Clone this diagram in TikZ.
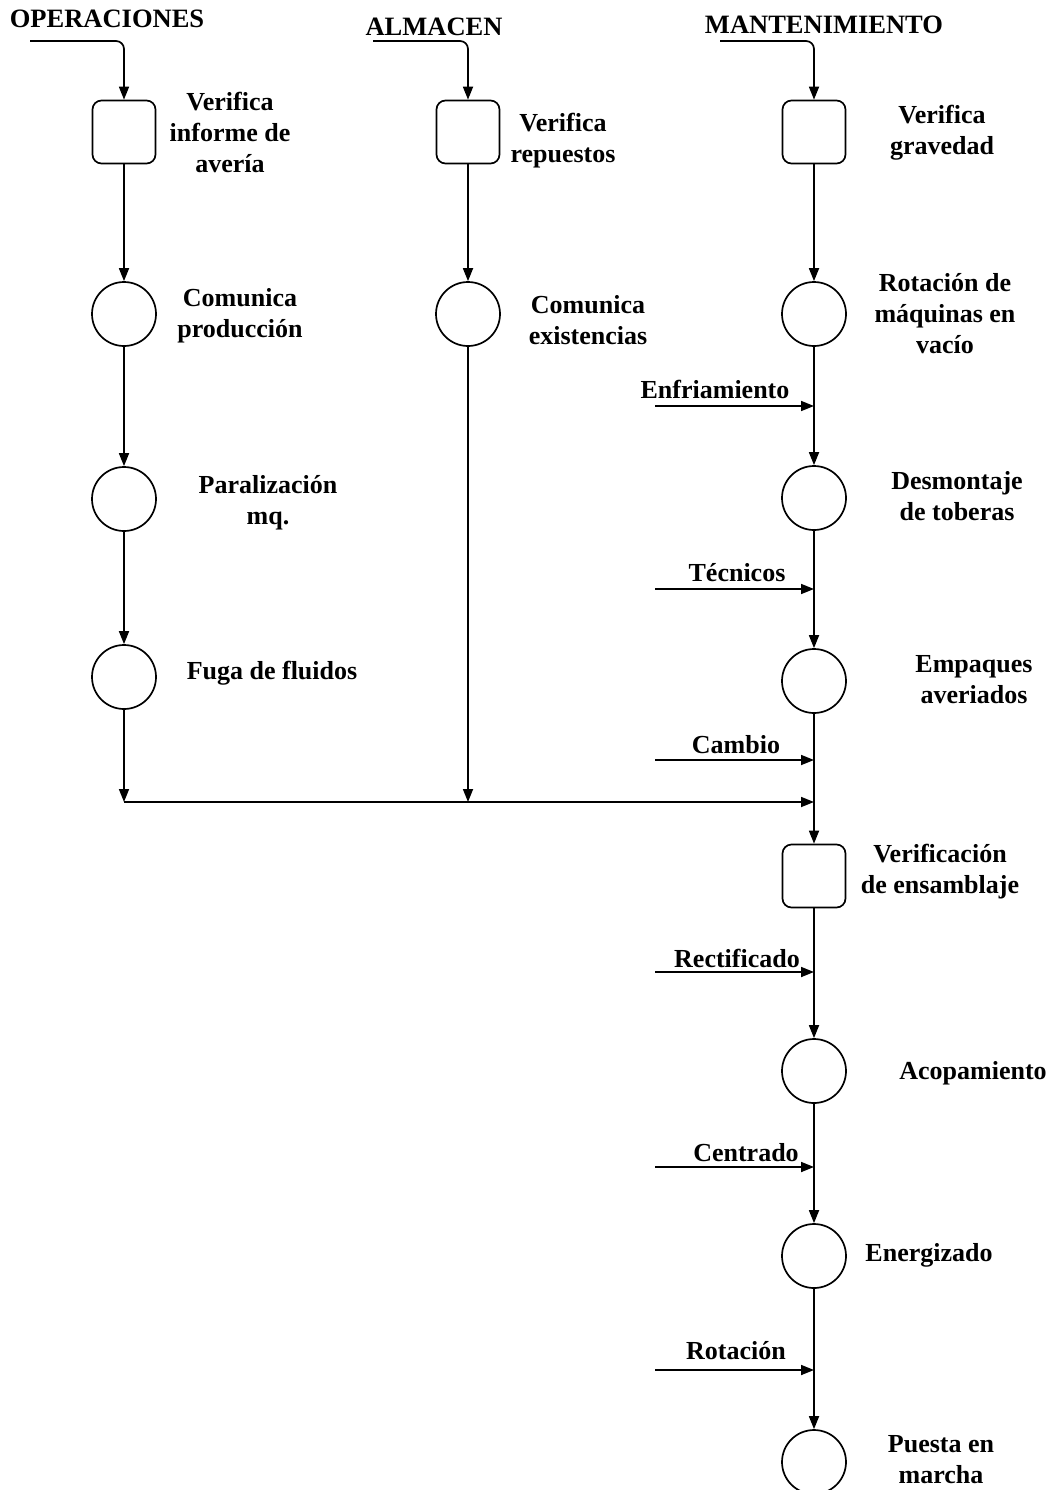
\documentclass[tikz,border=0pt]{standalone}
\usepackage{fontspec}
\setmainfont{Liberation Serif}
\usetikzlibrary{arrows.meta}
\begin{document}
\begin{tikzpicture}[x=1pt,y=-1pt,
  line width=1.7pt,
  arr/.style={-{Triangle[length=13pt,width=10pt]}},
  opbox/.style={draw,rounded corners=9pt,minimum width=63pt,minimum height=63pt,inner sep=0pt},
  opcirc/.style={draw,circle,minimum size=64pt,inner sep=0pt},
  lbl/.style={font=\bfseries\fontsize{26}{31}\selectfont,align=center,inner sep=0pt},
  hdr/.style={lbl,font=\bfseries\fontsize{26.5}{31}\selectfont},
]
\fill[white] (0,0) rectangle (1055,1490);
\useasboundingbox (0,0) rectangle (1055,1490);

% headers
\node[hdr] (hO) at (107,19) {OPERACIONES};
\node[hdr] (hA) at (434,27) {ALMACEN};
\node[hdr] (hM) at (824,25) {MANTENIMIENTO};
\coordinate (sO) at (30,41);
\coordinate (sA) at (373,41);
\coordinate (sM) at (720,41);

% left column
\node[opbox]  (b1) at (124,132) {};
\node[opcirc] (c1) at (124,314) {};
\node[opcirc] (c2) at (124,499) {};
\node[opcirc] (c3) at (124,677) {};
\coordinate (j1) at (124,802);

% middle column
\node[opbox]  (b2) at (468,132) {};
\node[opcirc] (c4) at (468,314) {};
\coordinate (j2) at (468,802);

% right column
\node[opbox]  (b3) at (814,132) {};
\node[opcirc] (c5) at (814,314) {};
\node[opcirc] (c6) at (814,498) {};
\node[opcirc] (c7) at (814,681) {};
\node[opbox]  (b4) at (814,876) {};
\node[opcirc] (c8) at (814,1071) {};
\node[opcirc] (c9) at (814,1256) {};
\node[opcirc] (c10) at (814,1462) {};
\coordinate (j3) at (814,802);

% labels
\node[lbl] (l1) at (230,132) {Verifica\\informe de\\avería};
\node[lbl] (l2) at (240,316) {Comunica\\producción};
\node[lbl] (l3) at (268,503) {Paralización\\mq.};
\node[lbl] (l4) at (272,673) {Fuga de fluidos};
\node[lbl] (l5) at (563,141) {Verifica\\repuestos};
\node[lbl] (l6) at (588,320) {Comunica\\existencias};
\node[lbl] (l7) at (942,133) {Verifica\\gravedad};
\node[lbl] (l8) at (945,314) {Rotación de\\máquinas en\\vacío};
\node[lbl] (l9) at (957,496) {Desmontaje\\de toberas};
\node[lbl] (l10) at (974,680) {Empaques\\averiados};
\node[lbl] (l11) at (940,872) {Verificación\\de ensamblaje};
\node[lbl] (l12) at (973,1073) {Acopamiento};
\node[lbl] (l13) at (929,1255) {Energizado};
\node[lbl] (l14) at (941,1460) {Puesta en\\marcha};

% input labels and arrows
\node[lbl] (i1) at (715,389) {Enfriamiento};
\node[lbl] (i2) at (737,573) {Técnicos};
\node[lbl] (i3) at (736,745) {Cambio};
\node[lbl] (i4) at (737,958) {Rectificado};
\node[lbl] (i5) at (746,1153) {Centrado};
\node[lbl] (i6) at (736,1351) {Rotación};
\coordinate (a1) at (655,406);  \coordinate (e1) at (814,406);
\coordinate (a2) at (655,589);  \coordinate (e2) at (814,589);
\coordinate (a3) at (655,760);  \coordinate (e3) at (814,760);
\coordinate (a4) at (655,972);  \coordinate (e4) at (814,972);
\coordinate (a5) at (655,1167); \coordinate (e5) at (814,1167);
\coordinate (a6) at (655,1370); \coordinate (e6) at (814,1370);
\foreach \k in {1,...,6} \draw[arr] (a\k) -- (e\k);

% header connectors
\draw[arr,rounded corners=8pt] (sO) -| (b1.north);
\draw[arr,rounded corners=8pt] (sA) -| (b2.north);
\draw[arr,rounded corners=8pt] (sM) -| (b3.north);

% flows
\draw[arr] (b1) -- (c1);
\draw[arr] (c1) -- (c2);
\draw[arr] (c2) -- (c3);
\draw[arr] (c3) -- (j1);
\draw[arr] (b2) -- (c4);
\draw[arr] (c4) -- (j2);
\draw[arr] (j1) -- (j3);
\draw[arr] (b3) -- (c5);
\draw[arr] (c5) -- (c6);
\draw[arr] (c6) -- (c7);
\draw[arr] (c7) -- (b4);
\draw[arr] (b4) -- (c8);
\draw[arr] (c8) -- (c9);
\draw[arr] (c9) -- (c10);
\end{tikzpicture}
\end{document}
